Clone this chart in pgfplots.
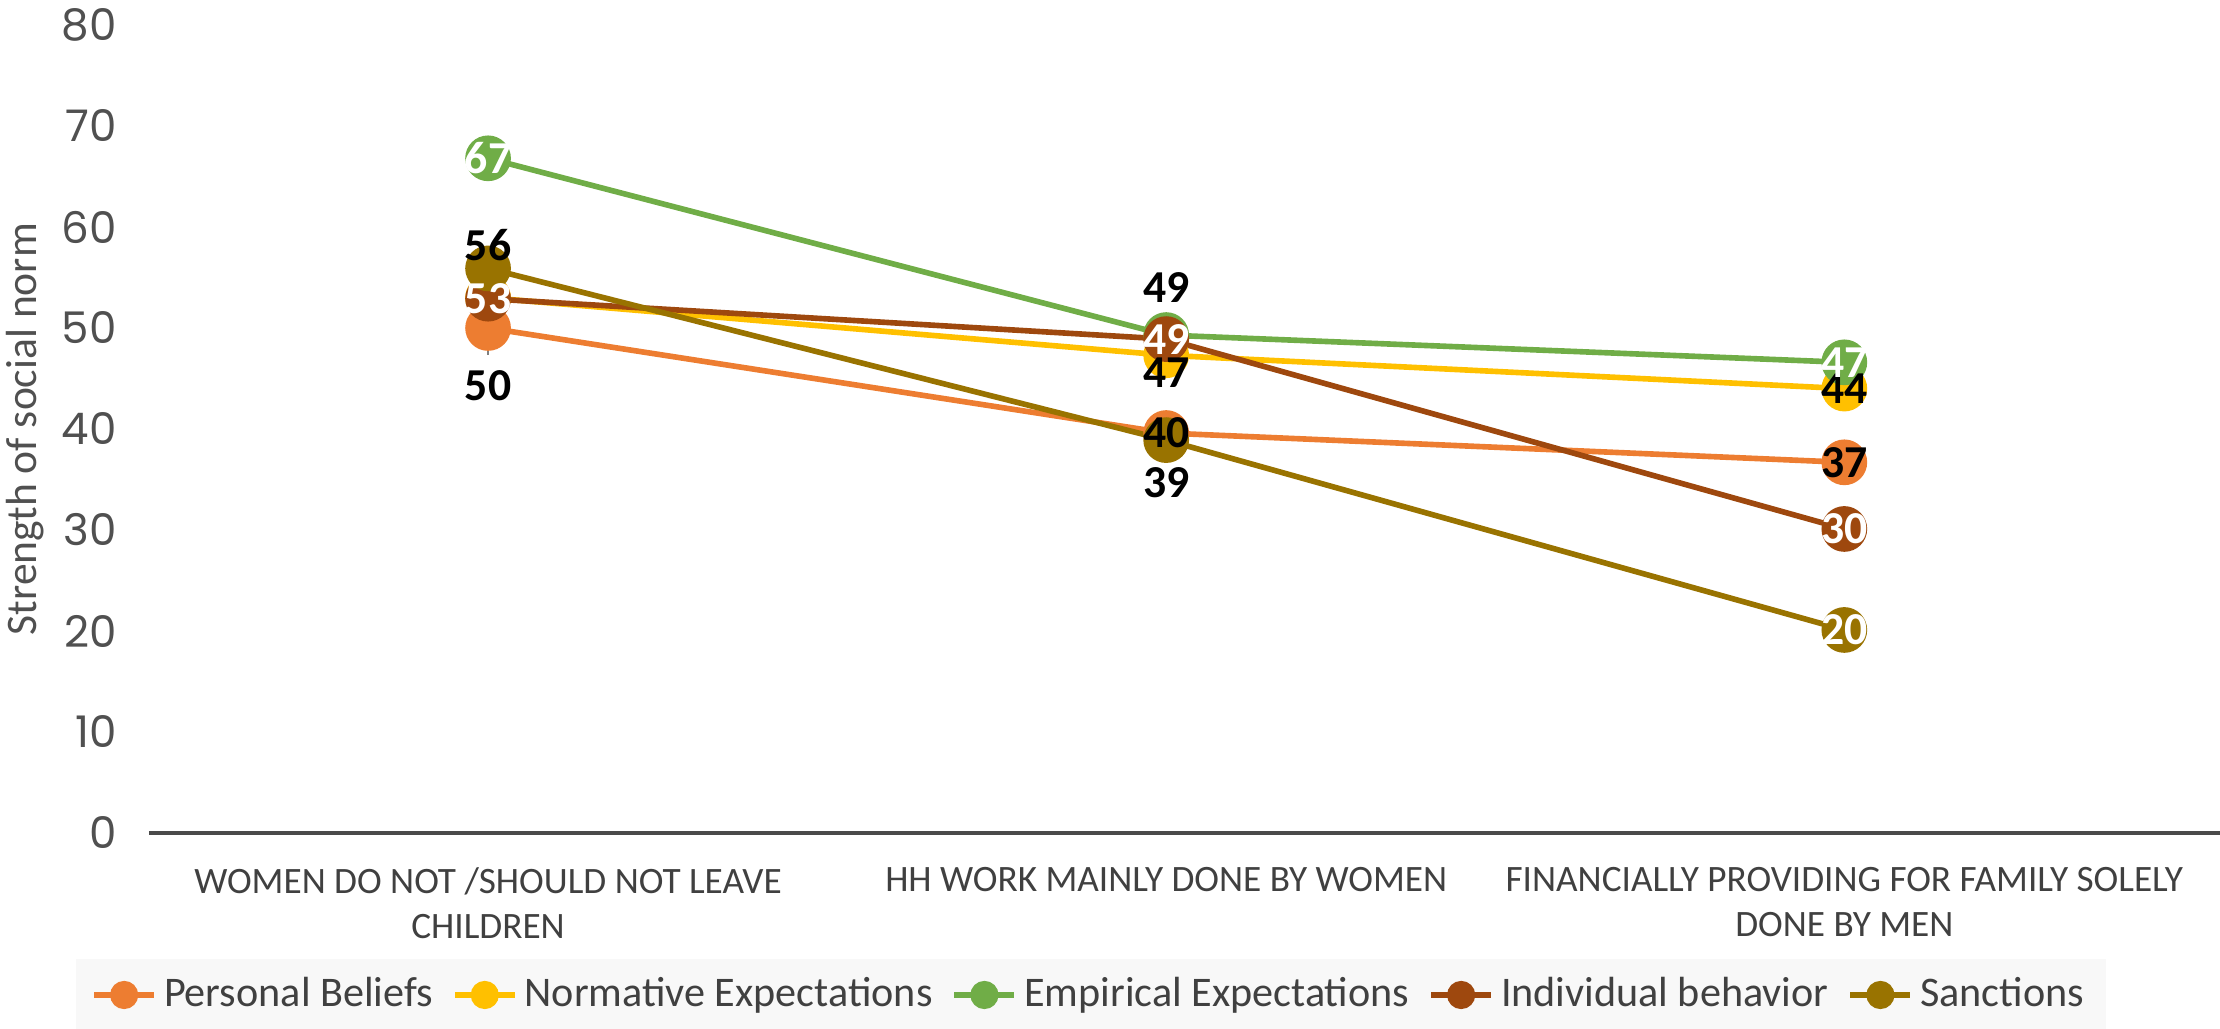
\documentclass[border=0pt]{standalone}
\usepackage{fontspec}
\setmainfont{Carlito}
\newfontfamily\tickfont{Poppins}
\usepackage{pgfplots}
\pgfplotsset{compat=1.18}
\usepackage{pgfplotstable}
\usetikzlibrary{calc}

\definecolor{cPB}{HTML}{ED7D31}
\definecolor{cNE}{HTML}{FFC000}
\definecolor{cEE}{HTML}{70AD47}
\definecolor{cIB}{HTML}{9E480E}
\definecolor{cSA}{HTML}{997300}
\definecolor{txt}{HTML}{505050}
\definecolor{axln}{HTML}{4A4A4A}
\definecolor{legbg}{HTML}{F8F8F8}

% x: 0 = leaving children, 1 = household work, 2 = financial provision
\pgfplotstableread{
x y
0 50.0
1 39.6
2 36.7
}\personal
\pgfplotstableread{
x y
0 53.0
1 47.3
2 44.0
}\normative
\pgfplotstableread{
x y
0 66.8
1 49.3
2 46.6
}\empirical
\pgfplotstableread{
x y
0 52.9
1 48.9
2 30.1
}\individual
\pgfplotstableread{
x y
0 55.9
1 38.9
2 20.1
}\sanctions

% data labels: value, vertical offset (pt), white share of the text colour
\pgfplotstableread{
x y lbl dy wh
0 50.0 50 -16.5 0
1 39.6 40 0 0
2 36.7 37 0 0
1 47.3 47 -5 0
2 44.0 44 0 0
0 66.8 67 0 100
1 49.3 49 13.4 0
2 46.6 47 0 100
0 52.9 53 0 100
1 48.9 49 0 100
2 30.1 30 0 100
0 55.9 56 6.5 0
1 38.9 39 -12.2 0
2 20.1 20 0 100
}\labels

\begin{document}
\begin{tikzpicture}
\begin{axis}[
  name=ax,
  scale only axis,
  width=20.71cm, height=8.08cm,
  xmin=-0.5, xmax=2.554,
  ymin=0, ymax=80,
  clip=false,
  axis x line*=bottom,
  axis y line*=left,
  y axis line style={draw=none},
  x axis line style={draw=axln, line width=1.1pt, -},
  major tick length=0pt,
  ytick={0,10,...,80},
  xtick={0,1,2},
  xticklabels={{WOMEN DO NOT /SHOULD NOT LEAVE\\CHILDREN},
               {HH WORK MAINLY DONE BY WOMEN},
               {FINANCIALLY PROVIDING FOR FAMILY SOLELY\\DONE BY MEN}},
  xticklabel style={align=center, text=black!75, anchor=north, yshift=-0.22cm,
    font=\fontsize{10.6}{12.8}\selectfont},
  yticklabel style={text=txt, anchor=east, xshift=-0.2cm,
    font=\tickfont\fontsize{12.4}{14}\selectfont},
  /pgf/number format/assume math mode=true,
  every axis y label/.style={at={(axis description cs:-0.0599,0.5)},
    rotate=90, anchor=center, text=txt, font=\fontsize{12.4}{14}\selectfont},
  ylabel={Strength of social norm},
  legend columns=5,
  legend style={at={(axis description cs:0.455,-0.2005)}, anchor=center,
    fill=legbg, draw=none, text=black!75, font=\fontsize{12}{14}\selectfont,
    inner xsep=0.15cm, inner ysep=0.12cm,
    /tikz/every even column/.append style={column sep=0.12cm}},
  legend image code/.code={
    \draw[#1, mark repeat=2, mark phase=2, mark size=3.2pt]
      plot coordinates {(0cm,0cm) (0.3cm,0cm) (0.6cm,0cm)};},
  every axis plot/.append style={line width=1.6pt, mark=*, mark size=5.7pt},
]
\addplot[color=cPB, mark options={fill=cPB, draw=cPB}] table {\personal};
\addlegendentry{Personal Beliefs}
\addplot[color=cNE, mark options={fill=cNE, draw=cNE}] table {\normative};
\addlegendentry{Normative Expectations}
\addplot[color=cEE, mark options={fill=cEE, draw=cEE}] table {\empirical};
\addlegendentry{Empirical Expectations}
\addplot[color=cIB, mark options={fill=cIB, draw=cIB}] table {\individual};
\addlegendentry{Individual behavior}
\addplot[color=cSA, mark options={fill=cSA, draw=cSA}] table {\sanctions};
\addlegendentry{Sanctions}

% leader line of the displaced label
\draw[gray, line width=0.5pt] (axis cs:0,50) -- (axis cs:0,47.3);

% data labels, drawn on top of every series
\addplot[forget plot, draw=none, mark=none,
  point meta=explicit symbolic,
  nodes near coords,
  visualization depends on={\thisrow{dy} \as \dy},
  visualization depends on={\thisrow{wh} \as \wh},
  every node near coord/.append style={anchor=center, yshift=\dy pt,
    text=white!\wh!black, font=\bfseries\fontsize{13}{15}\selectfont, inner sep=0pt},
] table[x=x, y=y, meta=lbl] {\labels};
\end{axis}
\pgfresetboundingbox
\path[use as bounding box] ($(ax.south west)+(-1.49cm,-1.96cm)$)
  rectangle ($(ax.north east)+(0,0.25cm)$);
\end{tikzpicture}
\end{document}
